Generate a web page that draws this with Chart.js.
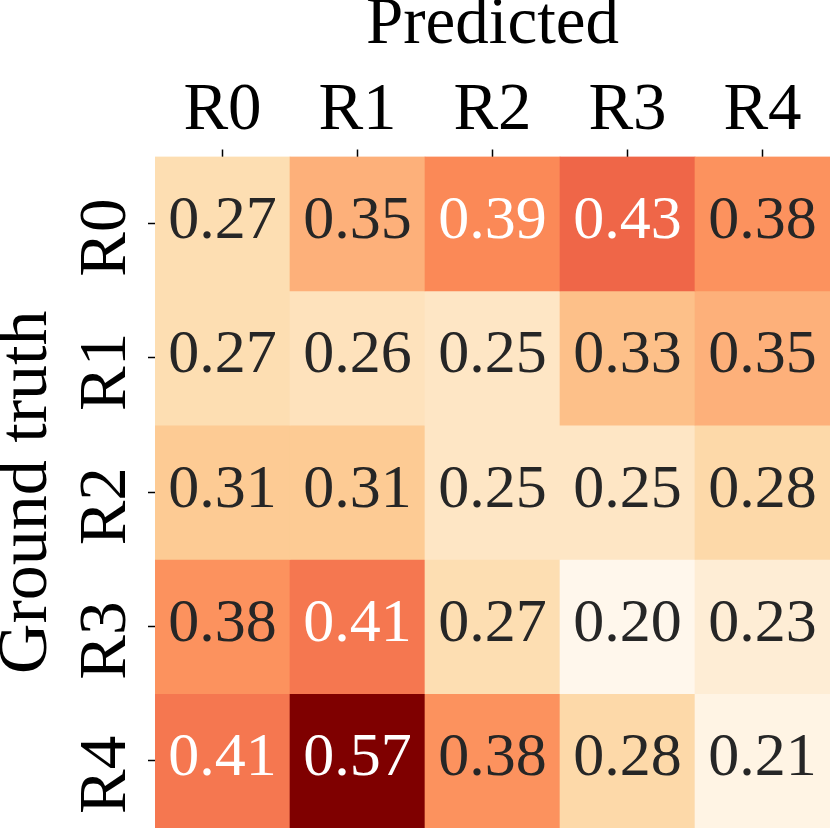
<!DOCTYPE html>
<html><head><meta charset="utf-8">
<script src="https://cdn.jsdelivr.net/npm/chart.js@4/dist/chart.umd.min.js"></script>
<style>html,body{margin:0;padding:0;background:#fff;overflow:hidden}canvas{display:block}</style>
</head><body>
<canvas id="c" width="830" height="828"></canvas>
<script>
// ---- data ----
const predictedLabels = ['R0', 'R1', 'R2', 'R3', 'R4'];
const truthLabels = ['R0', 'R1', 'R2', 'R3', 'R4'];
const rowR0 = [0.27, 0.35, 0.39, 0.43, 0.38];
const rowR1 = [0.27, 0.26, 0.25, 0.33, 0.35];
const rowR2 = [0.31, 0.31, 0.25, 0.25, 0.28];
const rowR3 = [0.38, 0.41, 0.27, 0.20, 0.23];
const rowR4 = [0.41, 0.57, 0.38, 0.28, 0.21];
const rows = [rowR0, rowR1, rowR2, rowR3, rowR4];

// ---- colormap (OrRd) ----
const orrd = ['#fff7ec','#fee8c8','#fdd49e','#fdbb84','#fc8d59','#ef6548','#d7301f','#b30000','#7f0000']
  .map(h => [parseInt(h.slice(1,3),16), parseInt(h.slice(3,5),16), parseInt(h.slice(5,7),16)]);
function cmap(t) {
  t = Math.max(0, Math.min(1, t));
  const p = t * (orrd.length - 1);
  const i = Math.min(orrd.length - 2, Math.floor(p));
  const f = p - i;
  return orrd[i].map((c, k) => c + (orrd[i + 1][k] - c) * f);
}
const all = rows.flat();
const vmin = Math.min(...all), vmax = Math.max(...all);
function cellRGB(v) { return cmap((v - vmin) / (vmax - vmin)); }
function rgbStr(c) { return `rgb(${c.map(Math.round).join(',')})`; }
function lum(c) {
  const l = c.map(x => { x /= 255; return x <= 0.03928 ? x / 12.92 : Math.pow((x + 0.055) / 1.055, 2.4); });
  return 0.2126 * l[0] + 0.7152 * l[1] + 0.0722 * l[2];
}

const FONT = "'Liberation Serif', 'Times New Roman', serif";

const datasets = rows.map((row, i) => ({
  label: truthLabels[i],
  data: row.map(() => [i - 0.5, i + 0.5]),
  values: row,
  backgroundColor: row.map(v => rgbStr(cellRGB(v))),
  borderWidth: 0,
  barPercentage: 1,
  categoryPercentage: 1,
  grouped: false
}));

const annot = {
  id: 'annot',
  afterDatasetsDraw(chart) {
    const ctx = chart.ctx;
    ctx.save();
    ctx.font = `62px ${FONT}`;
    ctx.textAlign = 'center';
    ctx.textBaseline = 'middle';
    chart.data.datasets.forEach((ds, i) => {
      const meta = chart.getDatasetMeta(i);
      meta.data.forEach((el, j) => {
        const v = ds.values[j];
        const c = cellRGB(v);
        ctx.fillStyle = lum(c) > 0.408 ? '#262626' : '#ffffff';
        const p = el.getCenterPoint();
        ctx.fillText(v.toFixed(2), p.x, p.y - 2);
      });
    });
    ctx.restore();
  }
};

new Chart(document.getElementById('c'), {
  type: 'bar',
  data: { labels: predictedLabels, datasets },
  plugins: [annot],
  options: {
    responsive: false,
    animation: false,
    layout: { padding: 0 },
    plugins: { legend: { display: false }, tooltip: { enabled: false } },
    scales: {
      x: {
        type: 'category',
        position: 'top',
        offset: true,
        border: { display: false },
        grid: { offset: false, drawOnChartArea: false, drawTicks: true, tickLength: 7, tickWidth: 1.5, tickColor: '#000' },
        ticks: { color: '#000', font: { family: FONT, size: 67 }, padding: -2, maxRotation: 0, minRotation: 0 },
        title: { display: true, text: 'Predicted', color: '#000', font: { family: FONT, size: 67, lineHeight: 0.65 }, padding: { top: 4, bottom: 0 } },
        afterFit(s) { s.height = 156.5; s.paddingLeft = 0; s.paddingRight = 0; }
      },
      y: {
        type: 'linear',
        reverse: true,
        min: -0.5,
        max: 4.5,
        border: { display: false },
        afterBuildTicks(s) { s.ticks = truthLabels.map((_, i) => ({ value: i })); },
        grid: { drawOnChartArea: false, drawTicks: true, tickLength: 7, tickWidth: 1.5, tickColor: '#000' },
        ticks: {
          color: '#000', font: { family: FONT, size: 67 }, padding: 1.5,
          minRotation: 90, maxRotation: 90, crossAlign: 'center', labelOffset: 14,
          callback: (v) => truthLabels[v]
        },
        title: { display: true, text: 'Ground truth', color: '#000', font: { family: FONT, size: 70, lineHeight: 0.65 }, padding: { top: 4.5, bottom: 0 } },
        afterFit(s) { s.width = 155; s.paddingTop = 0; s.paddingBottom = 0; }
      }
    }
  }
});
</script>
</body></html>
